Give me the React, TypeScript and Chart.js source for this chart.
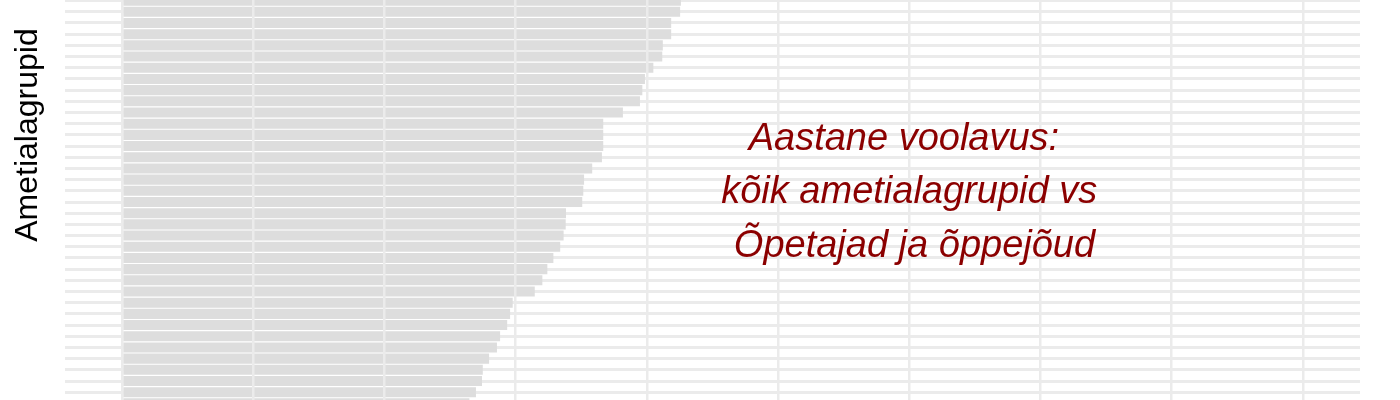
import { useEffect, useRef } from 'react';
import { Chart, registerables } from 'chart.js';

Chart.register(...registerables);

// ametialagrupid (nimed jäävad pildilt välja)
const groups = Array.from({ length: 37 }, (_, i) => `Ametialagrupp ${i + 1}`);

// aastane voolavus, %
const turnover = [
  21.3, 21.27, 20.93, 20.93, 20.61, 20.59, 20.25, 19.93, 19.83, 19.74,
  19.09, 18.34, 18.34, 18.34, 18.29, 17.92, 17.61, 17.58, 17.54, 16.92,
  16.91, 16.83, 16.7, 16.44, 16.21, 16.02, 15.73, 14.89, 14.79, 14.68,
  14.41, 14.29, 13.99, 13.75, 13.72, 13.49, 13.24,
];

const xTicks = [0, 5, 10, 15, 20, 25, 30, 35, 40, 45];
const xMin = -2.172;
const xMax = 47.18;

const yTitle = 'Ametialagrupid';
const noteLines = ['Aastane voolavus: ', 'kõik ametialagrupid vs', ' Õpetajad ja õppejõud'];
const noteX = 30;

const TOP_SHIFT = 5; // canvas starts 5px above the visible window

const textPlugin = {
  id: 'sideText',
  afterDraw(chart: any) {
    const { ctx } = chart;
    const xs = chart.scales.x;

    ctx.save();
    ctx.translate(37, 135 + TOP_SHIFT);
    ctx.rotate(-Math.PI / 2);
    ctx.font = '32px "Liberation Sans", Arial, sans-serif';
    ctx.fillStyle = '#000000';
    ctx.textAlign = 'center';
    ctx.textBaseline = 'alphabetic';
    ctx.fillText(yTitle, 0, 0);
    ctx.restore();

    ctx.save();
    ctx.font = 'italic 38px "Liberation Sans", Arial, sans-serif';
    ctx.fillStyle = '#8b0000';
    ctx.textAlign = 'center';
    ctx.textBaseline = 'alphabetic';
    const cx = xs.getPixelForValue(noteX);
    const baselines = [150, 203, 257];
    noteLines.forEach((line, i) => {
      ctx.fillText(line, cx, baselines[i] + TOP_SHIFT);
    });
    ctx.restore();
  },
};

export default function App() {
  const canvasRef = useRef<HTMLCanvasElement>(null);

  useEffect(() => {
    if (!canvasRef.current) return;
    const chart = new Chart(canvasRef.current, {
      type: 'bar',
      data: {
        labels: groups,
        datasets: [
          {
            label: 'Aastane voolavus',
            data: turnover,
            backgroundColor: '#dddddd',
            borderWidth: 0,
            barPercentage: 0.9,
            categoryPercentage: 1,
          },
        ],
      },
      options: {
        indexAxis: 'y',
        animation: false,
        responsive: true,
        maintainAspectRatio: false,
        layout: { padding: { left: 65, right: 40, top: 0, bottom: 0 } },
        plugins: {
          legend: { display: false },
          tooltip: { enabled: false },
        },
        scales: {
          x: {
            type: 'linear',
            min: xMin,
            max: xMax,
            afterBuildTicks: (scale: any) => {
              scale.ticks = xTicks.map((v) => ({ value: v }));
            },
            ticks: { display: false },
            border: { display: false },
            grid: { color: '#ebebeb', lineWidth: 2.5, drawTicks: false, z: 1 },
          },
          y: {
            type: 'category',
            ticks: { display: false },
            border: { display: false },
            grid: { color: '#ebebeb', lineWidth: 3, drawTicks: false, offset: false },
          },
        },
      },
      plugins: [textPlugin],
    });
    return () => chart.destroy();
  }, []);

  return (
    <div
      style={{
        position: 'fixed',
        left: 0,
        top: 0,
        width: 1400,
        height: 400,
        overflow: 'hidden',
        background: '#ffffff',
      }}
    >
      <div style={{ position: 'absolute', left: 0, top: -TOP_SHIFT, width: 1400, height: 414 }}>
        <canvas ref={canvasRef}></canvas>
      </div>
    </div>
  );
}
